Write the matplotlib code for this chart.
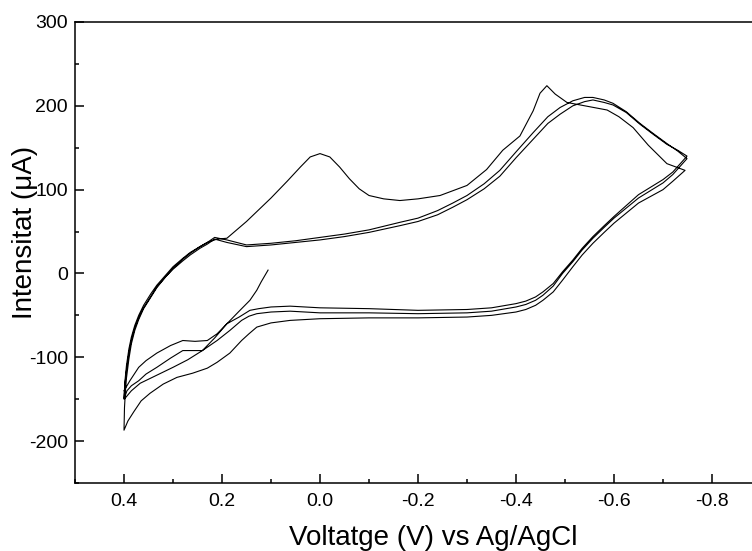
import numpy as np
import matplotlib
matplotlib.use("Agg")
import matplotlib.pyplot as plt
from matplotlib.ticker import MultipleLocator

plt.rcParams['font.family'] = ['Liberation Sans', 'DejaVu Sans']
plt.rcParams['axes.unicode_minus'] = False

# potential (V vs Ag/AgCl) and current (uA), sweep by sweep
init_v = [0.106, 0.12, 0.129, 0.143, 0.165, 0.19, 0.215, 0.24, 0.27, 0.30, 0.335, 0.367, 0.385, 0.398]
init_i = [4, -10, -20, -32, -45, -60, -77, -92, -103, -112, -122, -131, -140, -149]

neg1_v = [0.40, 0.398, 0.395, 0.39, 0.385, 0.378, 0.37, 0.36, 0.345, 0.333, 0.315, 0.30,
          0.28, 0.265, 0.245, 0.23, 0.21, 0.19, 0.15, 0.10, 0.067, 0.04, 0.02, 0.0,
          -0.02, -0.04, -0.06, -0.08, -0.10, -0.13, -0.163, -0.20, -0.245, -0.30,
          -0.34, -0.373, -0.408, -0.435, -0.449, -0.463, -0.48, -0.504, -0.55,
          -0.586, -0.61, -0.639, -0.67, -0.708, -0.745]
neg1_i = [-149, -128, -110, -90, -76, -62, -50, -38, -24, -14, -2, 8,
          18, 25, 32, 37, 41, 42, 62, 90, 110, 127, 139, 143,
          139, 127, 113, 101, 93, 89, 87, 89, 93, 105,
          124, 147, 164, 194, 215, 224, 214, 204, 199,
          195, 187, 174, 153, 131, 123]

pos1_v = [-0.745, -0.72, -0.70, -0.675, -0.65, -0.625, -0.60, -0.58, -0.557, -0.535,
          -0.516, -0.495, -0.476, -0.455, -0.44, -0.42, -0.40, -0.35, -0.30, -0.20,
          -0.10, 0.0, 0.061, 0.10, 0.129, 0.145, 0.16, 0.184, 0.21, 0.23, 0.26, 0.292,
          0.32, 0.347, 0.365, 0.38, 0.392, 0.40]
pos1_i = [123, 110, 100, 92, 84, 72, 60, 49, 36, 22,
          8, -8, -22, -32, -38, -43, -46, -50, -52, -53,
          -53, -54, -56, -59, -64, -72, -80, -95, -106, -113, -119, -124,
          -132, -143, -152, -165, -176, -187]

neg2_v = [0.40, 0.399, 0.397, 0.395, 0.39, 0.385, 0.378, 0.37, 0.36, 0.345, 0.333,
          0.315, 0.30, 0.28, 0.265, 0.245, 0.23, 0.215, 0.19, 0.15, 0.10, 0.05, 0.0,
          -0.05, -0.10, -0.163, -0.20, -0.24, -0.271, -0.30, -0.335, -0.367, -0.40,
          -0.435, -0.465, -0.49, -0.516, -0.54, -0.557, -0.58, -0.598, -0.625,
          -0.653, -0.68, -0.708, -0.73, -0.749]
neg2_i = [-187, -160, -140, -125, -102, -84, -68, -55, -42, -28, -17,
          -4, 6, 17, 24, 32, 37, 43, 40, 34, 36, 39, 43,
          47, 52, 61, 66, 75, 84, 93, 107, 123, 145,
          168, 187, 198, 206, 210, 210, 207, 203, 193,
          179, 167, 155, 146, 137]

pos2_v = [-0.749, -0.72, -0.70, -0.675, -0.65, -0.625, -0.60, -0.58, -0.557, -0.535,
          -0.516, -0.495, -0.476, -0.455, -0.44, -0.42, -0.40, -0.35, -0.30, -0.20,
          -0.10, 0.0, 0.061, 0.10, 0.129, 0.145, 0.16, 0.184, 0.21, 0.24, 0.28,
          0.305, 0.333, 0.355, 0.37, 0.385, 0.394, 0.40]
pos2_i = [137, 118, 108, 99, 90, 78, 66, 55, 42, 28,
          14, 0, -15, -26, -32, -37, -40, -45, -47, -48,
          -47, -47, -45, -46, -48, -51, -56, -68, -80, -92, -92,
          -101, -112, -120, -128, -134, -140, -150]

neg3_v = [0.40, 0.398, 0.395, 0.39, 0.385, 0.378, 0.37, 0.36, 0.345, 0.333, 0.315,
          0.30, 0.28, 0.265, 0.245, 0.23, 0.215, 0.19, 0.15, 0.10, 0.05, 0.0,
          -0.05, -0.10, -0.163, -0.20, -0.24, -0.271, -0.30, -0.335, -0.367, -0.40,
          -0.435, -0.465, -0.49, -0.516, -0.54, -0.557, -0.58, -0.598, -0.625,
          -0.653, -0.68, -0.708, -0.73, -0.749]
neg3_i = [-150, -132, -116, -95, -80, -65, -53, -41, -27, -16, -4,
          5, 15, 22, 30, 35, 41, 37, 32, 34, 37, 40,
          44, 49, 57, 62, 70, 79, 88, 101, 116, 138,
          160, 179, 190, 200, 205, 207, 204, 201, 192,
          178, 166, 154, 147, 140]

pos3_v = [-0.749, -0.72, -0.70, -0.675, -0.65, -0.625, -0.60, -0.58, -0.557, -0.535,
          -0.516, -0.495, -0.476, -0.455, -0.44, -0.42, -0.40, -0.35, -0.30, -0.20,
          -0.10, 0.0, 0.061, 0.10, 0.125, 0.143, 0.165, 0.19, 0.21, 0.23, 0.255, 0.28,
          0.305, 0.333, 0.355, 0.37, 0.388, 0.40]
pos3_i = [140, 121, 112, 103, 94, 81, 68, 57, 44, 30,
          16, 2, -12, -22, -28, -33, -36, -41, -43, -44,
          -42, -41, -39, -40, -42, -44, -52, -60, -72, -80, -81, -80,
          -86, -95, -104, -112, -128, -140]

volt = np.concatenate([init_v, neg1_v, pos1_v, neg2_v, pos2_v, neg3_v, pos3_v])
curr = np.concatenate([init_i, neg1_i, pos1_i, neg2_i, pos2_i, neg3_i, pos3_i])

fig = plt.figure(figsize=(7.52, 5.51), dpi=100)
# axes runs past the right edge of the figure like in the reference
ax = fig.add_axes([75 / 752, 68 / 551, 686 / 752, 461 / 551])
ax.plot(volt, curr, color='black', lw=0.8)

ax.set_xlim(0.5, -0.9)
ax.set_ylim(-250, 300)
ax.xaxis.set_major_locator(MultipleLocator(0.2))
ax.xaxis.set_minor_locator(MultipleLocator(0.1))
ax.yaxis.set_major_locator(MultipleLocator(100))
ax.yaxis.set_minor_locator(MultipleLocator(50))
ax.xaxis.set_major_formatter(plt.FuncFormatter(lambda v, p: f"{v:.1f}"))

ax.tick_params(which='both', direction='in', top=False, right=False,
               width=1.1, labelsize=14)
ax.tick_params(which='major', length=6.5)
ax.tick_params(which='minor', length=3)
ax.tick_params(axis='x', pad=7)
ax.tick_params(axis='y', pad=5)
for s in ax.spines.values():
    s.set_linewidth(1.1)

fig.text(433 / 752, 6 / 551, "Voltatge (V) vs Ag/AgCl", fontsize=20,
         ha='center', va='baseline')
fig.text(25 / 752, 1 - 232 / 551, "Intensitat (μA)", fontsize=20,
         rotation=90, ha='center', va='center')

fig.savefig("out.png", dpi=100)
